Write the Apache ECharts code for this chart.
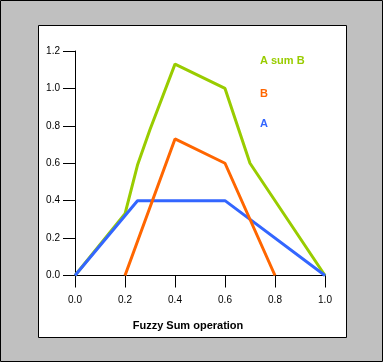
<!DOCTYPE html>
<html>
<head>
<meta charset="utf-8">
<script src="https://cdn.jsdelivr.net/npm/echarts@6/dist/echarts.min.js"></script>
<style>
html,body{margin:0;padding:0;background:#fff;}
#c{width:383px;height:362px;}
</style>
</head>
<body>
<div id="c"></div>
<script>
var seriesNames = ['A sum B', 'B', 'A'];
var sumAB = [[0,0],[0.2,0.33],[0.25,0.59],[0.3,0.78],[0.4,1.13],[0.6,1.0],[0.7,0.6],[1.0,0]];
var seriesB = [[0.2,0],[0.4,0.73],[0.6,0.6],[0.8,0]];
var seriesA = [[0,0],[0.25,0.4],[0.6,0.4],[1.0,0]];
var xTitle = 'Fuzzy Sum operation';
var colors = {'A sum B':'#99cc00','B':'#ff6600','A':'#3366ff'};

var chart = echarts.init(document.getElementById('c'), null, {renderer:'canvas'});
var font = 'Arial, "Liberation Sans", sans-serif';
var legendY = [62, 95, 125];
var option = {
  animation:false,
  backgroundColor:'transparent',
  graphic:[
    {type:'rect', z:-10, shape:{x:0.5,y:0.5,width:382,height:361}, style:{fill:'#c0c0c0',stroke:'#000',lineWidth:1}},
    {type:'rect', z:-9, shape:{x:38.5,y:25.5,width:308,height:312}, style:{fill:'#fff',stroke:'#000',lineWidth:1}}
  ].concat(seriesNames.map(function(n,i){
    return {type:'text', left:260, top:legendY[i]-7, style:{text:n, fill:colors[n], font:'bold 11px '+font}};
  })),
  grid:{left:75, right:58, top:51, bottom:86.5, containLabel:false},
  xAxis:{
    type:'value', min:0, max:1, interval:0.2,
    name:xTitle, nameLocation:'middle', nameGap:45,
    nameTextStyle:{color:'#000', fontWeight:'bold', fontSize:11, fontFamily:font, padding:[0,24,0,0]},
    axisLine:{show:true, lineStyle:{color:'#000', width:1}},
    axisTick:{show:true, length:12, lineStyle:{color:'#000'}},
    axisLabel:{color:'#000', fontSize:10, fontFamily:font, margin:20, formatter:function(v){return v.toFixed(1);}},
    splitLine:{show:false}
  },
  yAxis:{
    type:'value', min:0, max:1.2, interval:0.2,
    axisLine:{show:true, lineStyle:{color:'#000', width:1}},
    axisTick:{show:true, length:12, lineStyle:{color:'#000'}},
    axisLabel:{color:'#000', fontSize:10, fontFamily:font, margin:15, formatter:function(v){return v.toFixed(1);}},
    splitLine:{show:false}
  },
  series:[
    {name:'A sum B', type:'line', data:sumAB, symbol:'none', lineStyle:{color:colors['A sum B'], width:3}, z:2},
    {name:'A', type:'line', data:seriesA, symbol:'none', lineStyle:{color:colors['A'], width:3}, z:3},
    {name:'B', type:'line', data:seriesB, symbol:'none', lineStyle:{color:colors['B'], width:3}, z:4}
  ]
};
chart.setOption(option);
</script>
</body>
</html>
